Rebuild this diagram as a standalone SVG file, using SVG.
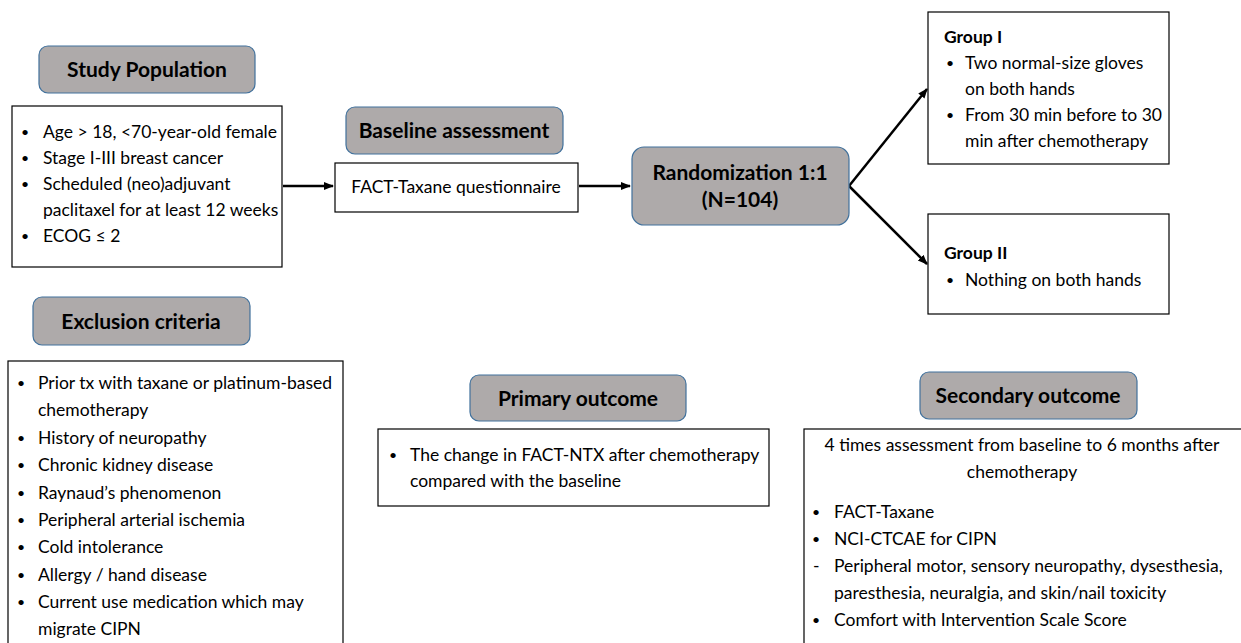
<svg xmlns="http://www.w3.org/2000/svg" width="1241" height="643" viewBox="0 0 1241 643">
<defs>
<style>
.hdr{fill:#aeaaaa;stroke:#41719c;stroke-width:1.2}
.box{fill:#fff;stroke:#000;stroke-width:1.2}
.ht{font-family:Lato,"Open Sans",sans-serif;font-weight:bold;font-size:21px;fill:#000;text-anchor:middle}
.t{font-family:Lato,"Open Sans",sans-serif;font-size:17.5px;fill:#000}
.bl{font-size:14px}
.b{font-family:Lato,"Open Sans",sans-serif;font-weight:bold;font-size:17.5px;fill:#000}
.c{text-anchor:middle}
.con{stroke:#000;stroke-width:2.5;fill:none;marker-end:url(#ah)}
</style>
<marker id="ah" viewBox="0 0 10 10" refX="9" refY="5" markerWidth="4" markerHeight="4" orient="auto" markerUnits="strokeWidth">
<path d="M0,1 L10,5 L0,9 z" fill="#000"/>
</marker>
</defs>
<rect width="1241" height="643" fill="#fff"/>

<g id="connectors">
<line class="con" x1="283" y1="186" x2="333" y2="186"/>
<line class="con" x1="579" y1="186" x2="630" y2="186"/>
<line class="con" x1="849" y1="186" x2="927" y2="89"/>
<line class="con" x1="849" y1="186" x2="927" y2="264"/>
</g>

<g id="study-population-header">
<rect class="hdr" x="39" y="46" width="216" height="47" rx="9"/>
<text class="ht" x="147" y="77">Study Population</text>
</g>
<g id="study-population">
<rect class="box" x="12" y="106" width="270" height="161"/>
<g class="t">
<text class="bl" x="21" y="137">•</text><text x="43" y="138">Age &gt; 18, &lt;70-year-old female</text>
<text class="bl" x="21" y="163">•</text><text x="43" y="164">Stage I-III breast cancer</text>
<text class="bl" x="21" y="189">•</text><text x="43" y="190">Scheduled (neo)adjuvant</text>
<text x="43" y="216">paclitaxel for at least 12 weeks</text>
<text class="bl" x="21" y="241">•</text><text x="43" y="242">ECOG ≤ 2</text>
</g>
</g>

<g id="baseline-header">
<rect class="hdr" x="346" y="107" width="217" height="47" rx="9"/>
<text class="ht" x="454" y="138">Baseline assessment</text>
</g>
<g id="baseline">
<rect class="box" x="335" y="163" width="243" height="49"/>
<text class="t c" x="456" y="193">FACT-Taxane questionnaire</text>
</g>

<g id="randomization">
<rect class="hdr" x="632" y="147" width="217" height="78" rx="12"/>
<text class="ht" x="740" y="180" font-size="22">Randomization 1:1</text>
<text class="ht" x="740" y="207" font-size="22">(N=104)</text>
</g>

<g id="group-1">
<rect class="box" x="928" y="12" width="241" height="152"/>
<text class="b" x="944" y="43">Group I</text>
<g class="t">
<text class="bl" x="946" y="68">•</text><text x="965" y="69">Two normal-size gloves</text>
<text x="965" y="95">on both hands</text>
<text class="bl" x="946" y="120">•</text><text x="965" y="121">From 30 min before to 30</text>
<text x="965" y="147">min after chemotherapy</text>
</g>
</g>

<g id="group-2">
<rect class="box" x="928" y="214" width="241" height="100"/>
<text class="b" x="944" y="259">Group II</text>
<g class="t">
<text class="bl" x="946" y="285">•</text><text x="965" y="286">Nothing on both hands</text>
</g>
</g>

<g id="exclusion-header">
<rect class="hdr" x="33" y="297" width="217" height="48" rx="9"/>
<text class="ht" x="141" y="329">Exclusion criteria</text>
</g>
<g id="exclusion">
<rect class="box" x="8" y="361" width="335" height="290"/>
<g class="t">
<text class="bl" x="17" y="388">•</text><text x="38" y="389">Prior tx with taxane or platinum-based</text>
<text x="38" y="416">chemotherapy</text>
<text class="bl" x="17" y="443">•</text><text x="38" y="444">History of neuropathy</text>
<text class="bl" x="17" y="470">•</text><text x="38" y="471">Chronic kidney disease</text>
<text class="bl" x="17" y="498">•</text><text x="38" y="499">Raynaud’s phenomenon</text>
<text class="bl" x="17" y="525">•</text><text x="38" y="526">Peripheral arterial ischemia</text>
<text class="bl" x="17" y="552">•</text><text x="38" y="553">Cold intolerance</text>
<text class="bl" x="17" y="580">•</text><text x="38" y="581">Allergy / hand disease</text>
<text class="bl" x="17" y="607">•</text><text x="38" y="608">Current use medication which may</text>
<text x="38" y="635">migrate CIPN</text>
</g>
</g>

<g id="primary-header">
<rect class="hdr" x="470" y="375" width="216" height="46" rx="9"/>
<text class="ht" x="578" y="406">Primary outcome</text>
</g>
<g id="primary">
<rect class="box" x="378" y="429" width="391" height="77"/>
<g class="t">
<text class="bl" x="389" y="460">•</text><text x="410" y="461">The change in FACT-NTX after chemotherapy</text>
<text x="410" y="487">compared with the baseline</text>
</g>
</g>

<g id="secondary-header">
<rect class="hdr" x="920" y="372" width="217" height="47" rx="9"/>
<text class="ht" x="1028" y="403">Secondary outcome</text>
</g>
<g id="secondary">
<rect class="box" x="804" y="429" width="450" height="230"/>
<g class="t">
<text class="c" x="1022" y="451">4 times assessment from baseline to 6 months after</text>
<text class="c" x="1022" y="478">chemotherapy</text>
<text class="bl" x="812" y="517">•</text><text x="834" y="518">FACT-Taxane</text>
<text class="bl" x="812" y="544">•</text><text x="834" y="545">NCI-CTCAE for CIPN</text>
<text x="813" y="572">-</text><text x="834" y="572">Peripheral motor, sensory neuropathy, dysesthesia,</text>
<text x="834" y="599">paresthesia, neuralgia, and skin/nail toxicity</text>
<text class="bl" x="812" y="625">•</text><text x="834" y="626">Comfort with Intervention Scale Score</text>
</g>
</g>
</svg>
